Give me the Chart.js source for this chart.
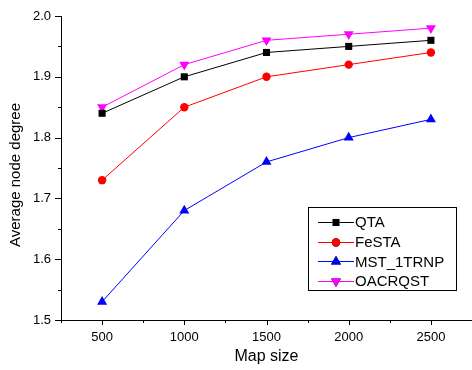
<!DOCTYPE html>
<html>
<head>
<meta charset="utf-8">
<script src="https://cdn.jsdelivr.net/npm/chart.js@4"></script>
<style>
html,body{margin:0;padding:0;background:#fff;}
#wrap{width:472px;height:370px;}
</style>
</head>
<body>
<div id="wrap"><canvas id="c" width="472" height="370"></canvas></div>
<script>
const mapSizes = [500, 1000, 1500, 2000, 2500];
const qta = [1.84, 1.90, 1.94, 1.95, 1.96];
const festa = [1.73, 1.85, 1.90, 1.92, 1.94];
const mst1trnp = [1.53, 1.68, 1.76, 1.80, 1.83];
const oacrqst = [1.85, 1.92, 1.96, 1.97, 1.98];
const seriesNames = ['QTA', 'FeSTA', 'MST_1TRNP', 'OACRQST'];
const yTicks = [1.5, 1.6, 1.7, 1.8, 1.9, 2.0];
const xTitle = 'Map size';
const yTitle = 'Average node degree';

const FONT = 'Arial, "Liberation Sans", sans-serif';

function pts(vals){ return mapSizes.map((x,i)=>({x:x,y:vals[i]})); }

const datasets = [
  {label: seriesNames[0], data: pts(qta), borderColor:'#000000', backgroundColor:'#000000', pointStyle:'rect', pointRadius:5, rotation:0},
  {label: seriesNames[1], data: pts(festa), borderColor:'#ff0000', backgroundColor:'#ff0000', pointStyle:'circle', pointRadius:4.2, rotation:0},
  {label: seriesNames[2], data: pts(mst1trnp), borderColor:'#0000ff', backgroundColor:'#0000ff', pointStyle:'triangle', pointRadius:5.8, rotation:0},
  {label: seriesNames[3], data: pts(oacrqst), borderColor:'#ff00ff', backgroundColor:'#ff00ff', pointStyle:'triangle', pointRadius:5.8, rotation:180}
].map(d=>Object.assign(d,{borderWidth:1, pointBorderWidth:0, pointHoverRadius:d.pointRadius, tension:0, fill:false}));

const tickPlugin = {
  id:'ticksAndLegend',
  afterDraw(chart){
    const ctx = chart.ctx;
    const xs = chart.scales.x, ys = chart.scales.y;
    const ca = chart.chartArea;
    ctx.save();
    ctx.strokeStyle = '#000';
    ctx.lineWidth = 1;
    // x ticks
    for (let v = 250; v <= 2750; v += 250) {
      const px = Math.round(xs.getPixelForValue(v)) + 0.5;
      const len = (v % 500 === 0) ? 5 : 3;
      ctx.beginPath();
      ctx.moveTo(px, ca.bottom);
      ctx.lineTo(px, ca.bottom + len);
      ctx.stroke();
    }
    // y ticks
    for (let i = 0; i <= 10; i++) {
      const v = 1.5 + i * 0.05;
      const py = Math.round(ys.getPixelForValue(v)) + 0.5;
      const len = (i % 2 === 0) ? 6 : 3;
      ctx.beginPath();
      ctx.moveTo(ca.left, py);
      ctx.lineTo(ca.left - len, py);
      ctx.stroke();
    }
    // axis titles
    ctx.fillStyle = '#000';
    ctx.font = '16px ' + FONT;
    ctx.textAlign = 'center';
    ctx.textBaseline = 'middle';
    ctx.fillText(xTitle, (ca.left + ca.right) / 2, 357);
    ctx.save();
    ctx.translate(16, 175);
    ctx.rotate(-Math.PI / 2);
    ctx.font = '15px ' + FONT;
    ctx.fillText(yTitle, 0, 0);
    ctx.restore();
    // legend
    const lx = 308.5, ly = 207.5, lw = 148, lh = 83;
    ctx.fillStyle = '#fff';
    ctx.fillRect(lx, ly, lw, lh);
    ctx.strokeStyle = '#000';
    ctx.strokeRect(lx, ly, lw, lh);
    ctx.font = '15px ' + FONT;
    ctx.textBaseline = 'middle';
    ctx.textAlign = 'left';
    chart.data.datasets.forEach((d, i) => {
      const y = 222 + i * 19.7;
      ctx.strokeStyle = d.borderColor;
      ctx.lineWidth = 1;
      ctx.beginPath();
      ctx.moveTo(318, Math.round(y) + 0.5);
      ctx.lineTo(354, Math.round(y) + 0.5);
      ctx.stroke();
      Chart.helpers.drawPoint(ctx, {pointStyle: d.pointStyle, rotation: d.rotation, radius: d.pointRadius, borderWidth: 0}, 336, Math.round(y) + 0.5);
      ctx.fillStyle = d.backgroundColor;
      ctx.fill();
      ctx.fillStyle = '#000';
      ctx.fillText(d.label, 355, y + 1);
    });
    ctx.restore();
  }
};

new Chart(document.getElementById('c'), {
  type: 'line',
  data: { datasets: datasets },
  plugins: [tickPlugin],
  options: {
    responsive: false,
    animation: false,
    events: [],
    layout: { autoPadding: false, padding: { top: 16, right: 0, left: 0, bottom: 0 } },
    plugins: { legend: { display: false }, tooltip: { enabled: false } },
    scales: {
      x: {
        type: 'linear', min: 250, max: 2750,
        afterBuildTicks(s){ s.ticks = [250,500,1000,1500,2000,2500,2750].map(v=>({value:v})); },
        afterFit(s){ s.height = 50; s.paddingRight = 0; s.paddingLeft = 0; },
        grid: { display: false, drawTicks: false },
        border: { display: true, color: '#000', width: 1 },
        ticks: {
          padding: 10, color: '#000', font: { family: FONT, size: 13 },
          maxRotation: 0, autoSkip: false,
          callback: (v) => (v % 500 === 0 && v >= 500 && v <= 2500) ? String(v) : ''
        },
        title: { display: false }
      },
      y: {
        type: 'linear', min: 1.5, max: 2.0,
        afterBuildTicks(s){ s.ticks = yTicks.map(v=>({value:v})); },
        afterFit(s){ s.width = 61; s.paddingTop = 0; s.paddingBottom = 0; },
        grid: { display: false, drawTicks: false },
        border: { display: true, color: '#000', width: 1 },
        ticks: {
          padding: 10, color: '#000', font: { family: FONT, size: 13 },
          callback: (v) => v.toFixed(1)
        },
        title: { display: false }
      }
    }
  }
});
</script>
</body>
</html>
